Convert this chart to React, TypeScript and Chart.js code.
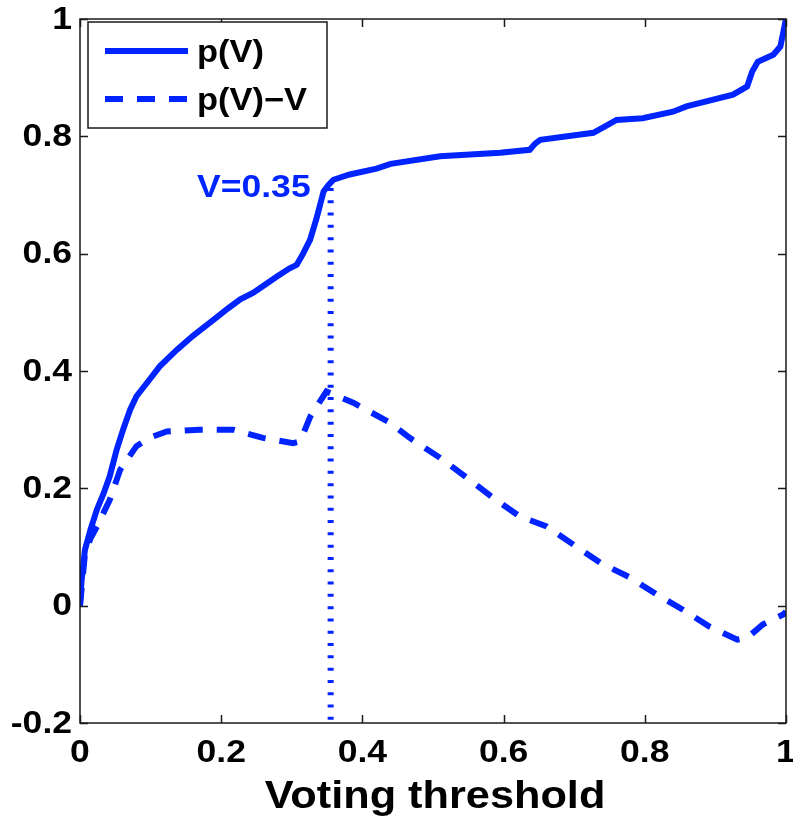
import React, { useEffect, useRef } from 'react';
import { Chart, registerables } from 'chart.js';

Chart.register(...registerables);

// p(V) curve
const pV_x = [0, 0.002, 0.007, 0.015, 0.024, 0.033, 0.042, 0.052, 0.061, 0.071, 0.08, 0.095, 0.113, 0.137, 0.16, 0.189, 0.21, 0.227, 0.245, 0.262, 0.279, 0.297, 0.307, 0.316, 0.326, 0.335, 0.345, 0.352, 0.359, 0.382, 0.42, 0.44, 0.51, 0.595, 0.637, 0.645, 0.652, 0.727, 0.745, 0.76, 0.797, 0.84, 0.859, 0.925, 0.945, 0.952, 0.96, 0.982, 0.992, 1.0];
const pV_y = [0, 0.04, 0.095, 0.13, 0.164, 0.19, 0.22, 0.266, 0.3, 0.334, 0.357, 0.38, 0.408, 0.436, 0.46, 0.487, 0.507, 0.522, 0.533, 0.547, 0.561, 0.575, 0.581, 0.6, 0.624, 0.66, 0.706, 0.717, 0.726, 0.735, 0.745, 0.753, 0.766, 0.772, 0.777, 0.788, 0.794, 0.806, 0.818, 0.828, 0.831, 0.842, 0.851, 0.871, 0.885, 0.91, 0.927, 0.939, 0.953, 1.0];

// p(V) - V curve
const diff_x = [0, 0.007, 0.015, 0.024, 0.042, 0.057, 0.08, 0.1, 0.123, 0.17, 0.217, 0.259, 0.302, 0.312, 0.326, 0.349, 0.387, 0.439, 0.467, 0.51, 0.548, 0.585, 0.623, 0.661, 0.699, 0.737, 0.779, 0.817, 0.854, 0.892, 0.931, 0.945, 0.967, 0.996, 1.0];
const diff_y = [0, 0.088, 0.115, 0.135, 0.18, 0.232, 0.272, 0.287, 0.297, 0.3, 0.3, 0.286, 0.277, 0.28, 0.322, 0.365, 0.346, 0.312, 0.286, 0.252, 0.218, 0.184, 0.152, 0.135, 0.104, 0.073, 0.048, 0.019, -0.007, -0.036, -0.058, -0.055, -0.032, -0.015, -0.01];

// vertical marker at V = 0.35
const marker_x = [0.355, 0.355];
const marker_y = [0.712, -0.2];
const markerLabel = 'V=0.35';

const seriesLabels = ['p(V)', 'p(V)\u2212V'];
const xTitle = 'Voting threshold';
const xRange = [0, 1];
const yRange = [-0.2, 1];
const tickStep = 0.2;

const BLUE = 'rgb(0,36,255)';
const FONT = '"Liberation Sans", Arial, Helvetica, sans-serif';
const SX = 1.11; // horizontal stretch of the original figure's text

const toPts = (xs: number[], ys: number[]) => xs.map((x, i) => ({ x, y: ys[i] }));
const fmt = (v: number) => String(Math.round(v * 10) / 10);

function drawText(ctx: CanvasRenderingContext2D, text: string, x: number, y: number, align: CanvasTextAlign, baseline: CanvasTextBaseline) {
  ctx.save();
  ctx.translate(x, y);
  ctx.scale(SX, 1);
  ctx.textAlign = align;
  ctx.textBaseline = baseline;
  ctx.fillText(text, 0, 0);
  ctx.restore();
}

const framePlugin = {
  id: 'matlabFrame',
  afterDraw(chart: any) {
    const { ctx, chartArea: a, scales } = chart;
    const xs = scales.x;
    const ys = scales.y;
    ctx.save();
    // frame
    ctx.strokeStyle = '#1a1a1a';
    ctx.lineWidth = 1.5;
    ctx.strokeRect(a.left, a.top, a.right - a.left, a.bottom - a.top);
    // inward ticks
    const tl = 8;
    ctx.beginPath();
    xs.ticks.forEach((t: any) => {
      const px = Math.round(xs.getPixelForValue(t.value)) + 0.5;
      ctx.moveTo(px, a.bottom);
      ctx.lineTo(px, a.bottom - tl);
      ctx.moveTo(px, a.top);
      ctx.lineTo(px, a.top + tl);
    });
    ys.ticks.forEach((t: any) => {
      const py = Math.round(ys.getPixelForValue(t.value)) + 0.5;
      ctx.moveTo(a.left, py);
      ctx.lineTo(a.left + tl, py);
      ctx.moveTo(a.right, py);
      ctx.lineTo(a.right - tl, py);
    });
    ctx.stroke();

    // tick labels
    ctx.fillStyle = '#000';
    ctx.font = `bold 32px ${FONT}`;
    xs.ticks.forEach((t: any) => {
      drawText(ctx, fmt(t.value), xs.getPixelForValue(t.value), a.bottom + 30, 'center', 'middle');
    });
    ys.ticks.forEach((t: any) => {
      drawText(ctx, fmt(t.value), a.left - 8, ys.getPixelForValue(t.value) + 1, 'right', 'middle');
    });

    // annotation text
    const mx = xs.getPixelForValue(marker_x[0]);
    const my = ys.getPixelForValue(marker_y[0]);
    ctx.fillStyle = BLUE;
    ctx.font = `bold 32px ${FONT}`;
    drawText(ctx, markerLabel, mx - 20, my + 9, 'right', 'alphabetic');

    // legend
    const lx = a.left + 8;
    const ly = a.top + 3;
    const lw = 239;
    const lh = 106;
    ctx.fillStyle = '#fff';
    ctx.fillRect(lx, ly, lw, lh);
    ctx.strokeStyle = '#1a1a1a';
    ctx.lineWidth = 1.5;
    ctx.strokeRect(lx, ly, lw, lh);
    const rows = [ly + 29, ly + 77];
    const dsets = chart.data.datasets;
    [0, 1].forEach((i) => {
      const ds = dsets[i];
      ctx.beginPath();
      ctx.strokeStyle = ds.borderColor;
      ctx.lineWidth = ds.borderWidth;
      ctx.setLineDash(ds.borderDash || []);
      ctx.lineCap = 'butt';
      ctx.moveTo(lx + 17, rows[i]);
      ctx.lineTo(lx + 100, rows[i]);
      ctx.stroke();
      ctx.setLineDash([]);
      ctx.fillStyle = '#000';
      ctx.font = `bold 31px ${FONT}`;
      drawText(ctx, ds.label, lx + 109, rows[i] + 2, 'left', 'middle');
    });

    // x-axis title
    ctx.fillStyle = '#000';
    ctx.font = `bold 39px ${FONT}`;
    drawText(ctx, xTitle, (a.left + a.right) / 2 + 2, 808, 'center', 'alphabetic');
    ctx.restore();
  },
};

export default function App() {
  const ref = useRef<HTMLCanvasElement | null>(null);
  useEffect(() => {
    if (!ref.current) return;
    const chart = new Chart(ref.current, {
      type: 'line',
      data: {
        datasets: [
          {
            label: seriesLabels[0],
            data: toPts(pV_x, pV_y),
            borderColor: BLUE,
            borderWidth: 6,
            pointRadius: 0,
            tension: 0,
            fill: false,
          },
          {
            label: seriesLabels[1],
            data: toPts(diff_x, diff_y),
            borderColor: BLUE,
            borderWidth: 6,
            borderDash: [18, 14],
            borderCapStyle: 'butt',
            pointRadius: 0,
            tension: 0,
            fill: false,
          },
          {
            label: markerLabel,
            data: toPts(marker_x, marker_y),
            borderColor: BLUE,
            borderWidth: 6,
            borderDash: [3, 9.3],
            borderCapStyle: 'butt',
            pointRadius: 0,
            fill: false,
          },
        ],
      },
      options: {
        animation: false,
        responsive: false,
        devicePixelRatio: 1,
        layout: { padding: { top: 19, right: 7, left: 0, bottom: 0 } },
        plugins: { legend: { display: false }, tooltip: { enabled: false } },
        scales: {
          x: {
            type: 'linear',
            min: xRange[0],
            max: xRange[1],
            grid: { display: false },
            border: { display: false },
            ticks: { stepSize: tickStep, display: false },
            afterFit: (s: any) => {
              s.height = 98;
              s.paddingLeft = 0;
              s.paddingRight = 0;
            },
          },
          y: {
            type: 'linear',
            min: yRange[0],
            max: yRange[1],
            grid: { display: false },
            border: { display: false },
            ticks: { stepSize: tickStep, display: false },
            afterFit: (s: any) => {
              s.width = 80;
              s.paddingTop = 0;
              s.paddingBottom = 0;
            },
          },
        },
      },
      plugins: [framePlugin],
    } as any);
    return () => chart.destroy();
  }, []);
  return (
    <div style={{ position: 'absolute', left: 0, top: 0, width: 793, height: 821, background: '#fff' }}>
      <canvas ref={ref} width={793} height={821} />
    </div>
  );
}
